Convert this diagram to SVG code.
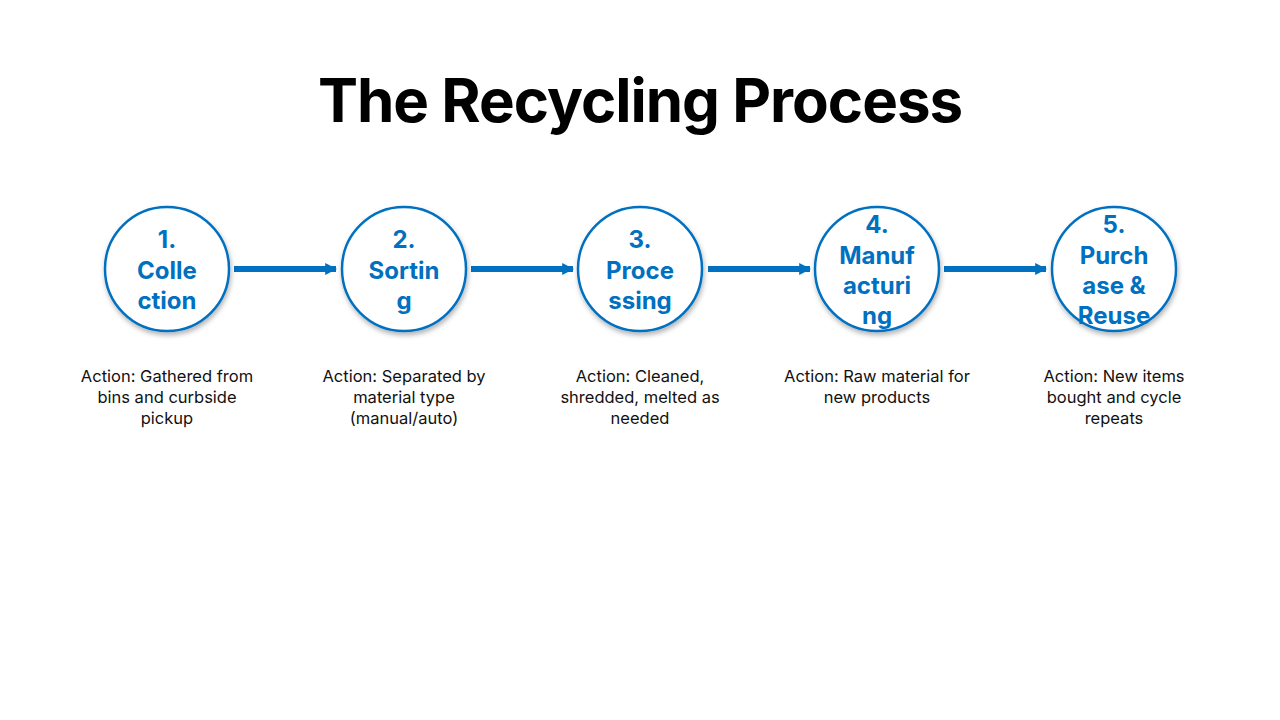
<svg xmlns="http://www.w3.org/2000/svg" width="1280" height="720" viewBox="0 0 1280 720">
<defs>
<filter id="sh" x="-20%" y="-20%" width="140%" height="150%"><feDropShadow dx="1" dy="3" stdDeviation="2.5" flood-color="#000" flood-opacity="0.3"/></filter>
<marker id="ah" viewBox="0 0 10 10" refX="9" refY="5" markerWidth="2" markerHeight="2.2" orient="auto" markerUnits="strokeWidth"><path d="M0,0 L10,5 L0,10 z" fill="#0070C0"/></marker>
</defs>
<style>
.c{fill:#fff;stroke:#0070C0;stroke-width:2.5;filter:url(#sh)}
.t{font-family:Inter,"Noto Sans",sans-serif;font-weight:bold;font-size:24px;fill:#0070C0;text-anchor:middle}
.d{font-family:Inter,"Noto Sans",sans-serif;font-size:16.5px;fill:#111;text-anchor:middle}
.a{stroke:#0070C0;stroke-width:6;fill:none;marker-end:url(#ah)}
</style>
<rect width="1280" height="720" fill="#fff"/>
<text x="640" y="122" font-family="Inter,'Noto Sans',sans-serif" font-weight="bold" font-size="60" text-anchor="middle" letter-spacing="-1" fill="#000">The Recycling Process</text>
<g id="connectors">
<line class="a" x1="234" y1="269" x2="336" y2="269"/>
<line class="a" x1="471" y1="269" x2="573" y2="269"/>
<line class="a" x1="708" y1="269" x2="810" y2="269"/>
<line class="a" x1="944" y1="269" x2="1046" y2="269"/>
</g>
<g id="n1"><circle class="c" cx="167" cy="269" r="62"/>
<text class="t"><tspan x="167" y="248">1.</tspan><tspan x="167" y="279">Colle</tspan><tspan x="167" y="309">ction</tspan></text>
<text class="d"><tspan x="167" y="382">Action: Gathered from</tspan><tspan x="167" y="403">bins and curbside</tspan><tspan x="167" y="424">pickup</tspan></text></g>
<g id="n2"><circle class="c" cx="404" cy="269" r="62"/>
<text class="t"><tspan x="404" y="248">2.</tspan><tspan x="404" y="279">Sortin</tspan><tspan x="404" y="309">g</tspan></text>
<text class="d"><tspan x="404" y="382">Action: Separated by</tspan><tspan x="404" y="403">material type</tspan><tspan x="404" y="424">(manual/auto)</tspan></text></g>
<g id="n3"><circle class="c" cx="640" cy="269" r="62"/>
<text class="t"><tspan x="640" y="248">3.</tspan><tspan x="640" y="279">Proce</tspan><tspan x="640" y="309">ssing</tspan></text>
<text class="d"><tspan x="640" y="382">Action: Cleaned,</tspan><tspan x="640" y="403">shredded, melted as</tspan><tspan x="640" y="424">needed</tspan></text></g>
<g id="n4"><circle class="c" cx="877" cy="269" r="62"/>
<text class="t"><tspan x="877" y="233">4.</tspan><tspan x="877" y="264">Manuf</tspan><tspan x="877" y="294">acturi</tspan><tspan x="877" y="324">ng</tspan></text>
<text class="d"><tspan x="877" y="382">Action: Raw material for</tspan><tspan x="877" y="403">new products</tspan></text></g>
<g id="n5"><circle class="c" cx="1114" cy="269" r="62"/>
<text class="t"><tspan x="1114" y="233">5.</tspan><tspan x="1114" y="264">Purch</tspan><tspan x="1114" y="294">ase &amp;</tspan><tspan x="1114" y="324">Reuse</tspan></text>
<text class="d"><tspan x="1114" y="382">Action: New items</tspan><tspan x="1114" y="403">bought and cycle</tspan><tspan x="1114" y="424">repeats</tspan></text></g>
</svg>
